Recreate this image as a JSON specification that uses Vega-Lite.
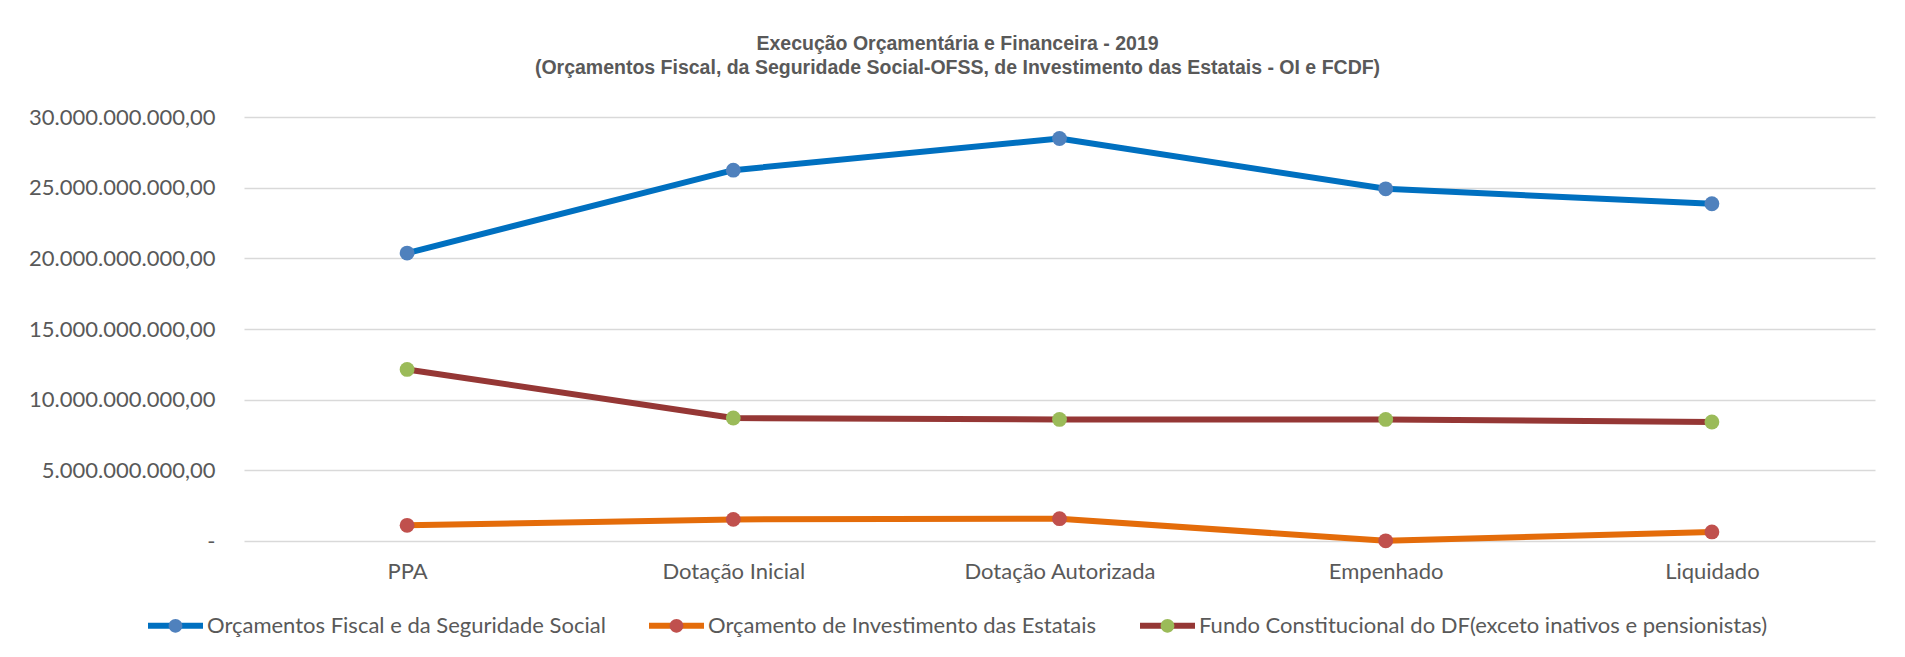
{
  "$schema": "https://vega.github.io/schema/vega-lite/v6.json",
  "autosize": "none",
  "width": 1631,
  "height": 424,
  "padding": {"left": 244, "top": 117, "right": 30, "bottom": 116},
  "background": "white",
  "title": {
    "text": ["Execução Orçamentária e Financeira - 2019", "(Orçamentos Fiscal, da Seguridade Social-OFSS, de Investimento das Estatais - OI e FCDF)"],
    "font": "Liberation Sans",
    "fontSize": 19.5,
    "fontWeight": "bold",
    "color": "#595959",
    "lineHeight": 24,
    "anchor": "middle",
    "dx": -102,
    "dy": 2,
    "offset": 30
  },
  "config": {
    "locale": {"number": {"decimal": ",", "thousands": ".", "grouping": [3], "currency": ["R$", ""]}},
    "view": {"stroke": null},
    "axis": {"labelFont": "Lato", "labelFontSize": 22, "labelColor": "#595959", "title": null, "labelLimit": 0}
  },
  "data": {
    "values": [
      {"etapa": "PPA", "serie": "Orçamentos Fiscal e da Seguridade Social", "valor": 20370000000},
      {"etapa": "Dotação Inicial", "serie": "Orçamentos Fiscal e da Seguridade Social", "valor": 26240000000},
      {"etapa": "Dotação Autorizada", "serie": "Orçamentos Fiscal e da Seguridade Social", "valor": 28480000000},
      {"etapa": "Empenhado", "serie": "Orçamentos Fiscal e da Seguridade Social", "valor": 24920000000},
      {"etapa": "Liquidado", "serie": "Orçamentos Fiscal e da Seguridade Social", "valor": 23860000000},
      {"etapa": "PPA", "serie": "Orçamento de Investimento das Estatais", "valor": 1110000000},
      {"etapa": "Dotação Inicial", "serie": "Orçamento de Investimento das Estatais", "valor": 1530000000},
      {"etapa": "Dotação Autorizada", "serie": "Orçamento de Investimento das Estatais", "valor": 1580000000},
      {"etapa": "Empenhado", "serie": "Orçamento de Investimento das Estatais", "valor": 10000000},
      {"etapa": "Liquidado", "serie": "Orçamento de Investimento das Estatais", "valor": 640000000},
      {"etapa": "PPA", "serie": "Fundo Constitucional do DF(exceto inativos e pensionistas)", "valor": 12140000000},
      {"etapa": "Dotação Inicial", "serie": "Fundo Constitucional do DF(exceto inativos e pensionistas)", "valor": 8700000000},
      {"etapa": "Dotação Autorizada", "serie": "Fundo Constitucional do DF(exceto inativos e pensionistas)", "valor": 8600000000},
      {"etapa": "Empenhado", "serie": "Fundo Constitucional do DF(exceto inativos e pensionistas)", "valor": 8600000000},
      {"etapa": "Liquidado", "serie": "Fundo Constitucional do DF(exceto inativos e pensionistas)", "valor": 8420000000}
    ]
  },
  "encoding": {
    "x": {
      "field": "etapa", "type": "nominal",
      "sort": ["PPA", "Dotação Inicial", "Dotação Autorizada", "Empenhado", "Liquidado"],
      "scale": {"type": "point", "padding": 0.5},
      "axis": {"domain": false, "ticks": false, "grid": false, "labelAngle": 0, "labelPadding": 20}
    },
    "y": {
      "field": "valor", "type": "quantitative",
      "scale": {"domain": [0, 30000000000], "nice": false},
      "axis": {
        "values": [0, 5000000000, 10000000000, 15000000000, 20000000000, 25000000000, 30000000000],
        "format": ",.2f",
        "labelExpr": "datum.value == 0 ? '-\u00a0\u00a0' : datum.label",
        "domain": false, "ticks": false, "grid": true,
        "gridColor": "#D9D9D9", "gridWidth": 1.5, "labelPadding": 29
      }
    }
  },
  "layer": [
    {
      "mark": {"type": "line", "strokeWidth": 6, "strokeJoin": "round", "strokeCap": "round"},
      "encoding": {
        "color": {
          "field": "serie", "type": "nominal",
          "sort": ["Orçamentos Fiscal e da Seguridade Social", "Orçamento de Investimento das Estatais", "Fundo Constitucional do DF(exceto inativos e pensionistas)"],
          "scale": {"range": ["#0070C0", "#E46C0A", "#953735"]},
          "legend": {
            "orient": "none", "direction": "horizontal", "columns": 3,
            "legendX": -99, "legendY": 478, "title": null,
            "symbolType": "stroke", "symbolSize": 3025, "symbolStrokeWidth": 6,
            "labelFont": "Lato", "labelFontSize": 22, "labelColor": "#595959",
            "labelOffset": 1, "columnPadding": 31, "padding": 0, "labelLimit": 0
          }
        }
      }
    },
    {
      "transform": [{"calculate": "datum.serie", "as": "serie_ponto"}],
      "mark": {"type": "point", "filled": true, "size": 220, "opacity": 1, "strokeWidth": 0},
      "encoding": {
        "fill": {
          "field": "serie_ponto", "type": "nominal",
          "sort": ["Orçamentos Fiscal e da Seguridade Social", "Orçamento de Investimento das Estatais", "Fundo Constitucional do DF(exceto inativos e pensionistas)"],
          "scale": {"range": ["#4F81BD", "#C0504D", "#9BBB59"]},
          "legend": {
            "orient": "none", "direction": "horizontal", "columns": 3,
            "legendX": -99, "legendY": 478, "title": null,
            "symbolType": "M-1,0L-1,0M1,0L1,0M-0.25,0A0.25,0.25,0,1,1,0.25,0A0.25,0.25,0,1,1,-0.25,0Z",
            "symbolSize": 3025, "symbolStrokeWidth": 6, "symbolStrokeColor": "transparent", "symbolOpacity": 1,
            "labelFont": "Lato", "labelFontSize": 22, "labelColor": "#595959", "labelOpacity": 0,
            "labelOffset": 1, "columnPadding": 31, "padding": 0, "labelLimit": 0
          }
        }
      }
    }
  ]
}
